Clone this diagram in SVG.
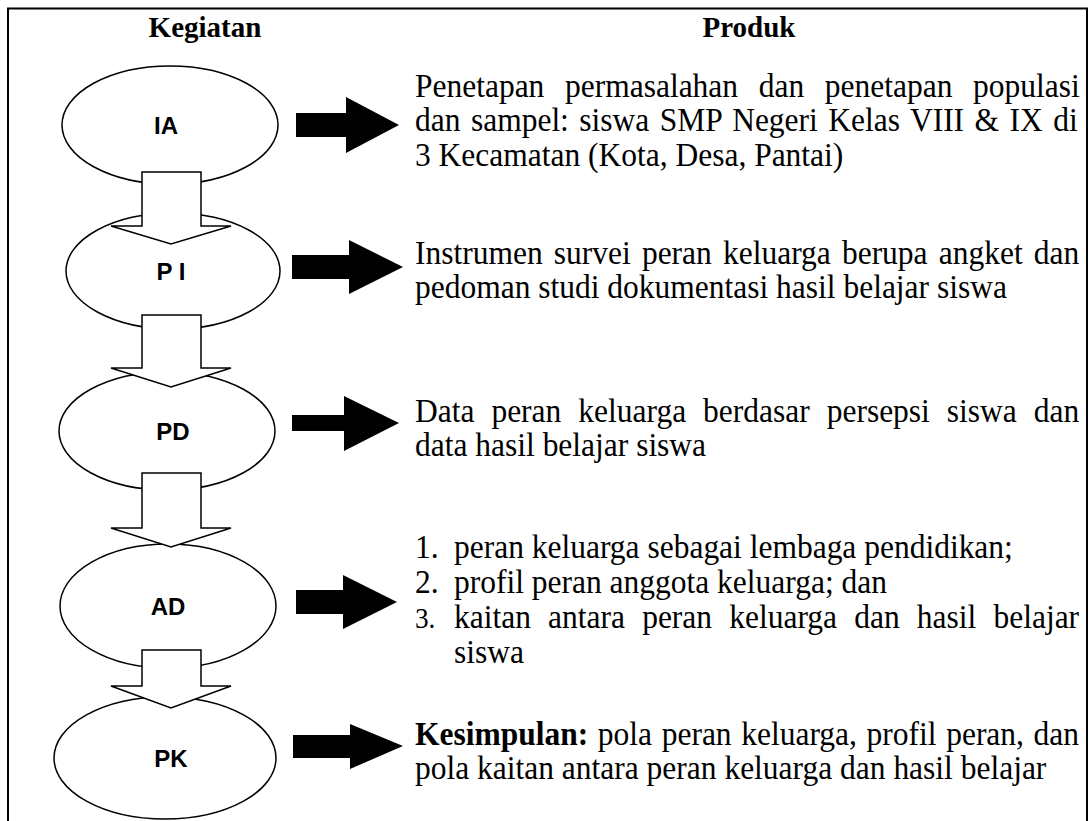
<svg xmlns="http://www.w3.org/2000/svg" width="1091" height="821" viewBox="0 0 1091 821">
<style>
.node ellipse{fill:#fff;stroke:#000;stroke-width:1.5}
.lbl{font-family:"Liberation Sans",Arial,sans-serif;font-weight:bold;font-size:24px;text-anchor:middle;fill:#000}
.hdr{font-family:"Liberation Serif","Times New Roman",serif;font-weight:bold;font-size:29px;text-anchor:middle;fill:#000}
.txt{font-family:"Liberation Serif","Times New Roman",serif;font-size:33.5px;fill:#000}
.down{fill:#fff;stroke:#000;stroke-width:1.5;stroke-linejoin:miter}
.right{fill:#000;stroke:none}
</style>
<rect x="8" y="8.5" width="1079" height="840" fill="none" stroke="#000" stroke-width="2"/>
<text class="hdr" x="205" y="37">Kegiatan</text>
<text class="hdr" x="749" y="37">Produk</text>

<g id="IA" class="node"><ellipse cx="170" cy="125" rx="108" ry="59"/><text class="lbl" x="166" y="134">IA</text></g>
<g id="PI" class="node"><ellipse cx="173" cy="271" rx="107" ry="58"/><text class="lbl" x="171" y="280">P I</text></g>
<g id="PD" class="node"><ellipse cx="167" cy="431" rx="108" ry="59"/><text class="lbl" x="173" y="440">PD</text></g>
<g id="AD" class="node"><ellipse cx="168" cy="606" rx="108" ry="62"/><text class="lbl" x="168" y="615">AD</text></g>
<g id="PK" class="node"><ellipse cx="165" cy="758" rx="111" ry="61"/><text class="lbl" x="171" y="767">PK</text></g>

<g id="connectors">
<polygon class="down" points="142,172 201,172 201,226 231,226 171,244 111,226 142,226"/>
<polygon class="down" points="142,315 201,315 201,368 231,368 171,387 111,368 142,368"/>
<polygon class="down" points="142,473 201,473 201,528 231,528 171,547 111,528 142,528"/>
<polygon class="down" points="142,650 201,650 201,686 231,686 171,708 111,686 142,686"/>
<polygon class="right" points="296,113 346,113 346,97 399,125 346,153 346,137 296,137"/>
<polygon class="right" points="292,255 349,255 349,240 403,267 349,294 349,279 292,279"/>
<polygon class="right" points="292,415 344,415 344,396 399,423 344,451 344,431 292,431"/>
<polygon class="right" points="296,590 343,590 343,575 397,602 343,629 343,614 296,614"/>
<polygon class="right" points="293,735 350,735 350,724 403,746 350,769 350,758 293,758"/>
</g>

<g class="txt" transform="matrix(0.94 0 0 1 415 0)">
<g id="produk-IA">
<text x="0" y="97" word-spacing="13.6">Penetapan permasalahan dan penetapan populasi</text>
<text x="0" y="131" word-spacing="2.8">dan sampel: siswa SMP Negeri Kelas VIII &amp; IX di</text>
<text x="0" y="166">3 Kecamatan (Kota, Desa, Pantai)</text>
</g>
<g id="produk-PI">
<text x="0" y="264" word-spacing="3.5">Instrumen survei peran keluarga berupa angket dan</text>
<text x="0" y="298">pedoman studi dokumentasi hasil belajar siswa</text>
</g>
<g id="produk-PD">
<text x="0" y="422" word-spacing="9.7">Data peran keluarga berdasar persepsi siswa dan</text>
<text x="0" y="456">data hasil belajar siswa</text>
</g>
<g id="produk-AD">
<text x="0" y="558">1.</text><text x="41.5" y="558">peran keluarga sebagai lembaga pendidikan;</text>
<text x="0" y="593">2.</text><text x="41.5" y="593">profil peran anggota keluarga; dan</text>
<text x="0" y="628" font-size="29">3.</text><text x="41.5" y="628" word-spacing="9.9">kaitan antara peran keluarga dan hasil belajar</text>
<text x="41.5" y="663">siswa</text>
</g>
<g id="produk-PK">
<text x="0" y="745" word-spacing="1.9"><tspan font-weight="bold">Kesimpulan:</tspan> pola peran keluarga, profil peran, dan</text>
<text x="0" y="779">pola kaitan antara peran keluarga dan hasil belajar</text>
</g>
</g>
</svg>
